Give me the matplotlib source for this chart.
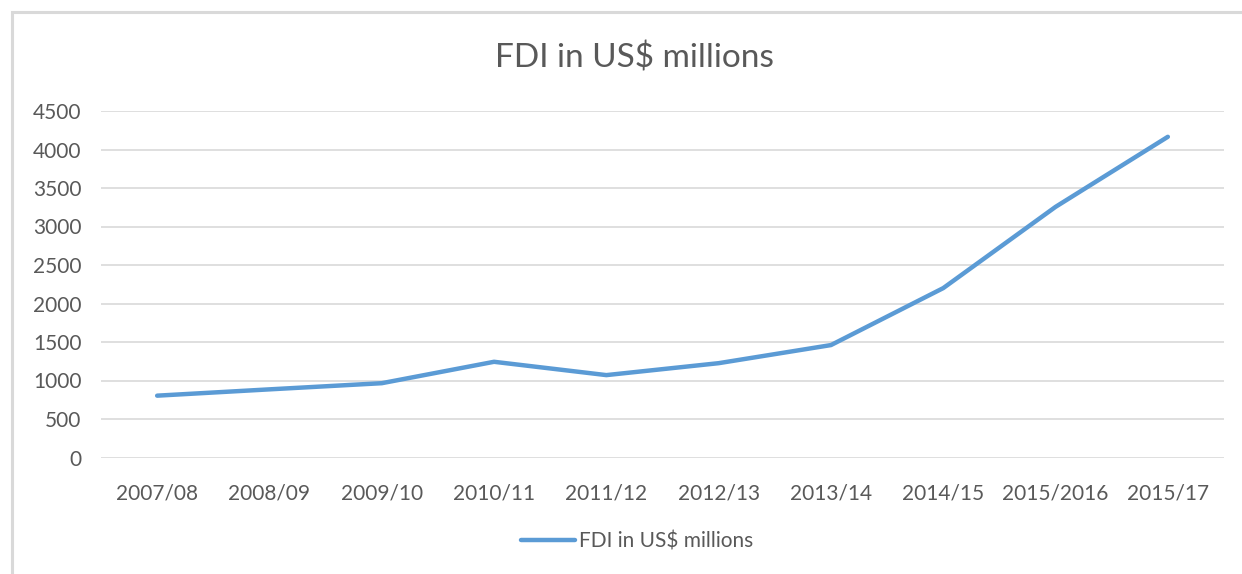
import matplotlib.pyplot as plt
from matplotlib.patches import Rectangle

# Dati
anni = ['2007/08', '2008/09', '2009/10', '2010/11', '2011/12',
        '2012/13', '2013/14', '2014/15', '2015/2016', '2015/17']
fdi = [803, 885, 965, 1243, 1070, 1225, 1460, 2200, 3255, 4165]
tick_y = [0, 500, 1000, 1500, 2000, 2500, 3000, 3500, 4000, 4500]

plt.rcParams['font.family'] = ['Lato', 'DejaVu Sans']
testo = '#595959'

fig = plt.figure(figsize=(12.42, 5.74), dpi=100)
ax = fig.add_axes([101 / 1242, 1 - 457.5 / 574, 1123 / 1242, 346.5 / 574])

# bordo grigio del riquadro
fig.patches.append(Rectangle((12 / 1242, -0.1), 1.2, 1 - 12 / 574 + 0.1,
                             transform=fig.transFigure, fill=False,
                             edgecolor='#D9D9D9', linewidth=2.2))

x = range(len(anni))
ax.plot(x, fdi, color='#5B9BD5', linewidth=3.2, solid_capstyle='round',
        label='FDI in US$ millions')

ax.set_xlim(-0.5, len(anni) - 0.5)
ax.set_ylim(0, 4500)
ax.set_yticks(tick_y)
ax.set_xticks(list(x))
ax.set_xticklabels(anni)
ax.tick_params(axis='both', length=0, labelsize=15, colors=testo)
ax.tick_params(axis='y', pad=14)
ax.tick_params(axis='x', pad=19)
ax.grid(axis='y', color='#D9D9D9', linewidth=1.2)
ax.set_axisbelow(True)
for s in ax.spines.values():
    s.set_visible(False)

fig.text(634 / 1242, 1 - 58 / 574, 'FDI in US$ millions', ha='center', va='center',
         fontsize=24, color=testo)

fig.legend(loc='center', bbox_to_anchor=(637 / 1242, 1 - 541 / 574), frameon=False,
           fontsize=15, labelcolor=testo, handlelength=2.6, handletextpad=0.2)

fig.savefig('out.png', dpi=100, facecolor='white')
